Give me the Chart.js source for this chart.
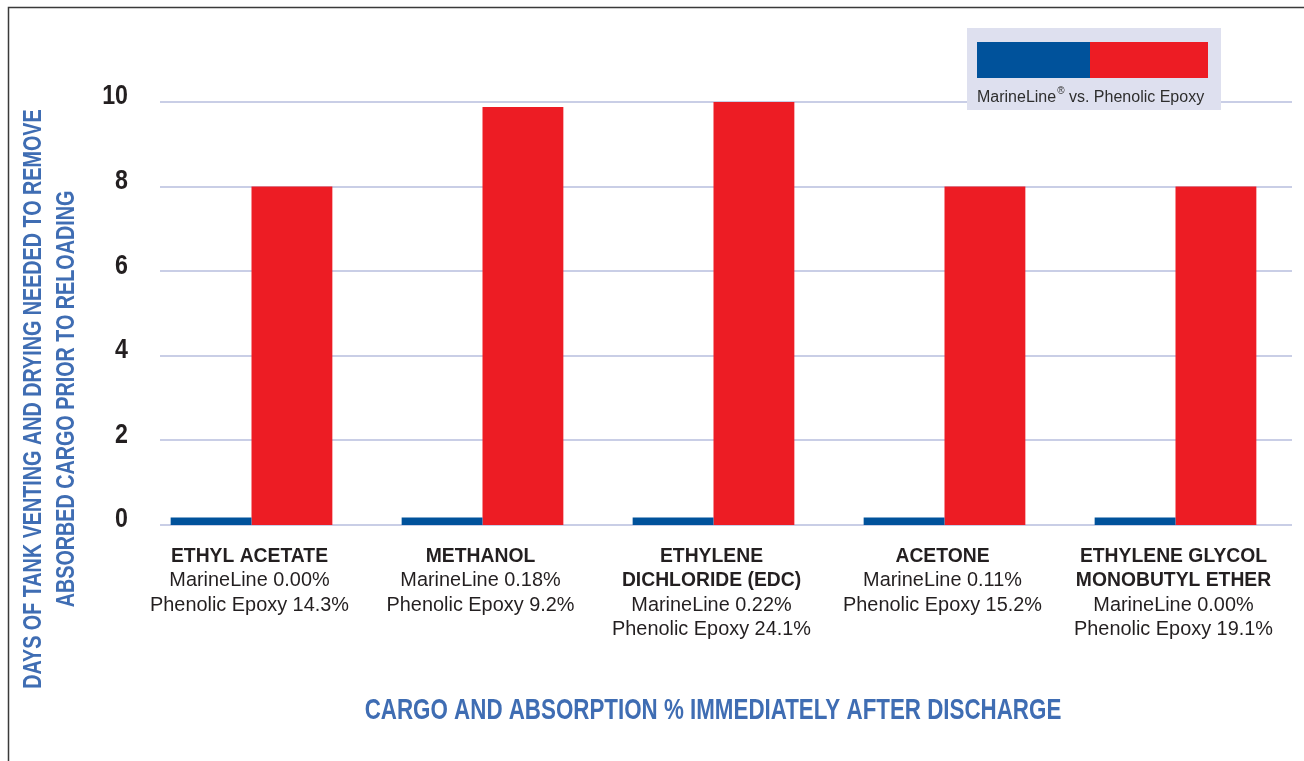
<!DOCTYPE html>
<html>
<head>
<meta charset="utf-8">
<script src="https://cdn.jsdelivr.net/npm/chart.js@4/dist/chart.umd.min.js"></script>
<style>
  body { margin: 0; background: #fff; }
  canvas { display: block; }
</style>
</head>
<body>
<canvas id="absorptionChart" width="1304" height="761"></canvas>
<script>
// chart data
const cargoNames = [
    ['ETHYL ACETATE'],
    ['METHANOL'],
    ['ETHYLENE', 'DICHLORIDE (EDC)'],
    ['ACETONE'],
    ['ETHYLENE GLYCOL', 'MONOBUTYL ETHER']
];
const marineLineAbsorption = ['0.00%', '0.18%', '0.22%', '0.11%', '0.00%'];
const phenolicAbsorption = ['14.3%', '9.2%', '24.1%', '15.2%', '19.1%'];
const marineLineDays = [0.18, 0.18, 0.18, 0.18, 0.18];
const phenolicDays = [8.0, 9.88, 10.0, 8.0, 8.0];
const yTicks = [0, 2, 4, 6, 8, 10];

const BLUE = '#00529b';
const RED = '#ed1c24';
const TITLE_BLUE = '#3f6db3';
const TEXT = '#231f20';
const GRID = '#c9cee6';
const SANS = '"Liberation Sans", Arial, sans-serif';

// draws text squeezed horizontally (condensed look) at x
function fillSqueezed(ctx, text, x, y, squeeze) {
    ctx.save();
    ctx.translate(x, y);
    ctx.scale(squeeze, 1);
    ctx.fillText(text, 0, 0);
    ctx.restore();
}

// everything except the bars is drawn here, positioned from the chart scales
const decorPlugin = {
    id: 'decor',
    beforeDatasetsDraw(chart) {
        const { ctx, chartArea, scales } = chart;
        const y = scales.y;
        ctx.save();

        // frame (left and top only)
        ctx.strokeStyle = '#3a3a3a';
        ctx.lineWidth = 1.5;
        ctx.beginPath();
        ctx.moveTo(8.5, 761);
        ctx.lineTo(8.5, 7.5);
        ctx.lineTo(1304, 7.5);
        ctx.stroke();

        // grid lines
        ctx.strokeStyle = GRID;
        ctx.lineWidth = 2;
        yTicks.forEach(v => {
            const py = Math.round(y.getPixelForValue(v));
            ctx.beginPath();
            ctx.moveTo(chartArea.left + 24, py);
            ctx.lineTo(chartArea.right + 1, py);
            ctx.stroke();
        });

        // y tick labels
        ctx.fillStyle = TEXT;
        ctx.font = 'bold 27px ' + SANS;
        ctx.textAlign = 'right';
        ctx.textBaseline = 'middle';
        yTicks.forEach(v => {
            fillSqueezed(ctx, String(v), 128, y.getPixelForValue(v) - 5, 0.86);
        });

        // y title
        ctx.save();
        ctx.translate(34, 399);
        ctx.rotate(-Math.PI / 2);
        ctx.fillStyle = TITLE_BLUE;
        ctx.font = 'bold 25px ' + SANS;
        ctx.textAlign = 'center';
        ctx.textBaseline = 'middle';
        fillSqueezed(ctx, 'DAYS OF TANK VENTING AND DRYING NEEDED TO REMOVE', 0, 0, 0.79);
        fillSqueezed(ctx, 'ABSORBED CARGO PRIOR TO RELOADING', 0, 33, 0.79);
        ctx.restore();

        // x title
        ctx.fillStyle = TITLE_BLUE;
        ctx.font = 'bold 30px ' + SANS;
        ctx.textAlign = 'center';
        ctx.textBaseline = 'middle';
        fillSqueezed(ctx, 'CARGO AND ABSORPTION % IMMEDIATELY AFTER DISCHARGE', 713, 711, 0.745);

        ctx.restore();
    },
    afterDatasetsDraw(chart) {
        const { ctx, scales } = chart;
        const x = scales.x;
        ctx.save();

        // category labels
        ctx.fillStyle = TEXT;
        ctx.textAlign = 'center';
        ctx.textBaseline = 'middle';
        cargoNames.forEach((name, i) => {
            const cx = x.getPixelForValue(i) - 2;
            let ly = 556;
            ctx.font = 'bold 21px ' + SANS;
            name.forEach(line => {
                fillSqueezed(ctx, line, cx, ly, 0.92);
                ly += 24.5;
            });
            ctx.font = '20.5px ' + SANS;
            fillSqueezed(ctx, 'MarineLine ' + marineLineAbsorption[i], cx, ly, 0.97);
            ly += 24.5;
            fillSqueezed(ctx, 'Phenolic Epoxy ' + phenolicAbsorption[i], cx, ly, 0.97);
        });

        // legend box
        ctx.fillStyle = '#dee0ef';
        ctx.fillRect(967, 28, 254, 82);
        ctx.fillStyle = BLUE;
        ctx.fillRect(977, 42, 113, 36);
        ctx.fillStyle = RED;
        ctx.fillRect(1090, 42, 118, 36);

        ctx.fillStyle = '#2e2e2e';
        ctx.textAlign = 'left';
        ctx.textBaseline = 'alphabetic';
        let tx = 977;
        ctx.font = '16px ' + SANS;
        ctx.fillText('MarineLine', tx, 102);
        tx += ctx.measureText('MarineLine').width + 1;
        ctx.font = '10px ' + SANS;
        ctx.fillText('\u00AE', tx, 94);
        tx += ctx.measureText('\u00AE').width;
        ctx.font = '16px ' + SANS;
        ctx.fillText(' vs. Phenolic Epoxy', tx, 102);

        ctx.restore();
    }
};

const ctx = document.getElementById('absorptionChart').getContext('2d');
const absorptionChart = new Chart(ctx, {
    type: 'bar',
    data: {
        labels: cargoNames.map(n => n.join(' ')),
        datasets: [
            {
                label: 'MarineLine',
                data: marineLineDays,
                backgroundColor: BLUE,
                borderWidth: 0
            },
            {
                label: 'Phenolic Epoxy',
                data: phenolicDays,
                backgroundColor: RED,
                borderWidth: 0
            }
        ]
    },
    options: {
        responsive: false,
        animation: false,
        events: [],
        layout: {
            padding: { left: 136, right: 13, top: 102, bottom: 236 }
        },
        datasets: {
            bar: { categoryPercentage: 0.7, barPercentage: 1.0 }
        },
        plugins: {
            legend: { display: false },
            tooltip: { enabled: false }
        },
        scales: {
            x: { display: false },
            y: { display: false, min: 0, max: 10 }
        }
    },
    plugins: [decorPlugin]
});
</script>
</body>
</html>
